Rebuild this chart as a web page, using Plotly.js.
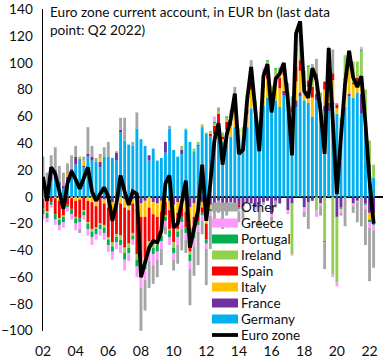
<!DOCTYPE html>
<html>
<head>
<meta charset="utf-8">
<script src="https://cdn.plot.ly/plotly-3.0.1.min.js"></script>
<style>html,body{margin:0;padding:0;background:#fff;}#chart{width:384px;height:360px;}</style>
</head>
<body>
<div id="chart"></div>
<script>
var quarters = [
"2002Q1","2002Q2","2002Q3","2002Q4","2003Q1","2003Q2","2003Q3","2003Q4",
"2004Q1","2004Q2","2004Q3","2004Q4","2005Q1","2005Q2","2005Q3","2005Q4",
"2006Q1","2006Q2","2006Q3","2006Q4","2007Q1","2007Q2","2007Q3","2007Q4",
"2008Q1","2008Q2","2008Q3","2008Q4","2009Q1","2009Q2","2009Q3","2009Q4",
"2010Q1","2010Q2","2010Q3","2010Q4","2011Q1","2011Q2","2011Q3","2011Q4",
"2012Q1","2012Q2","2012Q3","2012Q4","2013Q1","2013Q2","2013Q3","2013Q4",
"2014Q1","2014Q2","2014Q3","2014Q4","2015Q1","2015Q2","2015Q3","2015Q4",
"2016Q1","2016Q2","2016Q3","2016Q4","2017Q1","2017Q2","2017Q3","2017Q4",
"2018Q1","2018Q2","2018Q3","2018Q4","2019Q1","2019Q2","2019Q3","2019Q4",
"2020Q1","2020Q2","2020Q3","2020Q4","2021Q1","2021Q2","2021Q3","2021Q4",
"2022Q1","2022Q2"];

var germany = [10,6,12,14, 8,6,11,18, 24,27,22,30, 27,26,22,30, 30,29,27,48, 42,39,38,51,
 43,38,27,36, 27,29,33,51, 35,30,32,50, 41,34,38,52, 47,45,44,48, 41,44,45,52,
 45,42,52,66, 60,43,68,74, 69,72,67,76, 70,55,67,75, 72,70,60,72, 62,64,64,68,
 62,44,67,75, 74,78,62,55, 22,14];
var france = [4,2,5,6, 3,2,4,3, 6,1,1,2, 3,-2,4,-2, -3,-4,6,2, -2,-3,-2,-3,
 -5,-3,4,-4, -5,-3,8,-3, -6,-4,3,-3, -8,-5,1,-4, -10,-6,-5,-3, -7,-5,-4,-5,
 -6,-7,-4,-5, -8,-6,-4,-3, -13,-3,-5,3, -10,-5,5,3, -8,-4,-3,5, -5,4,6,3,
 -15,-8,0,2, -5,-3,15,-5, -12,-12];
var italy = [-1,-2,1,-1, -3,-2,2,-1, -3,-2,4,-3, -4,-5,3,-3, -5,-8,-4,-5, -6,-7,-3,-6,
 -10,-12,-8,-9, -10,-8,-4,-7, -11,-8,-5,-8, -15,-10,-8,-4, -10,-3,3,7, 2,6,8,12,
 3,6,10,14, 4,7,13,14, 5,12,14,12, 5,8,14,16, 6,12,14,9, 5,12,20,16,
 4,3,20,20, 10,8,8,2, -5,-3];
var spain = [-8,-9,-4,-12, -13,-12,-6,-8, -12,-14,-10,-16, -20,-16,-20,-16, -22,-22,-24,-24, -30,-25,-22,-34,
 -33,-30,-25,-22, -18,-16,-10,-14, -17,-12,-10,-12, -18,-12,-10,-4, -12,2,6,7, 2,6,4,7,
 -2,0,3,4, 1,2,5,6, 3,6,8,6, 3,4,11,8, 6,5,8,6, 3,6,7,5,
 3,0,2,1, 1,3,4,1, 2,-4];
var ireland = [1,-1,0,0, -1,-1,0,0, -1,2,-1,-1, -2,-1,-1,-2, -2,-3,-2,-3, -4,-3,-2,-4,
 -5,-4,-3,-3, -3,-2,-1,-1, -4,-2,3,1, -2,2,2,2, 1,2,2,3, 3,3,4,5,
 3,4,5,7, 6,4,6,7, 6,5,6,2, 4,-38,12,14, 10,10,8,-10, 8,-33,3,-58,
 -49,12,16,4, 16,12,20,22, 18,10];
var portugal = [-4,-4,-2,-4, -4,-4,-2,-4, -4,-3,-3,-4, -4,-4,-3,-4, -4,-4,-4,-4, -5,-4,-3,-5,
 -6,-5,-5,-5, -5,-4,-3,-5, -4,-4,-4,-4, -5,-4,-3,-2, -3,-2,1,1, 0,1,1,1,
 -1,0,1,1, 0,0,1,1, 0,1,1,1, 0,1,2,1, 0,1,1,1, 0,-1,1,1,
 0,-1,0,0, 0,0,1,-1, -2,-2];
var greece = [-4,-3,-2,-4, -4,-4,-3,-4, -5,-5,-3,-5, -6,-4,-5,-5, -5,-6,-5,-6, -8,-6,-4,-8,
 -9,-8,-7,-8, -6,-6,-4,-6, -5,-6,-5,-5, -6,-6,-5,-4, -4,-3,4,1, -2,-1,3,0,
 -2,-1,3,0, -2,-1,3,0, -2,0,1,0, -3,-1,3,0, -3,0,2,-5, -2,0,2,-2,
 -3,-3,1,0, -2,-1,2,-3, -4,-4];
var other = [15,10,13,17, 12,10,8,10, 8,-3,3,20, 8,3,3,7, 11,0,1,9, 17,0,3,12,
 -32,-23,-20,-14, -13,-12,-6,2, -8,-14,-16,-10, -27,-22,-25,-10, -27,-25,-13,-9, -15,-8,-3,5,
 -8,-9,2,10, 1,-15,-2,0, -5,-5,0,0, 3,7,8,14, -4,-20,6,10, -7,-20,9,17,
 1,-2,-22,7, -5,-15,-22,-27, -40,-28];
var euroZone = [15,-3,22,17, 4,-9,10,19, 13,6,14,22, 4,-3,2,7, 0,-18,-5,16, 4,-6,4,2,
 -60,-48,-38,-33, -34,-25,10,16, -23,-20,-2,12, -38,-23,-10,24, -18,10,42,55, 24,46,58,77,
 32,35,72,97, 62,34,90,99, 63,88,92,100, 72,31,122,131, 79,74,96,87, 64,32,111,50,
 2,45,84,109, 89,82,90,55, 12,-20];

var tickQuarters = ["2002Q1","2004Q1","2006Q1","2008Q1","2010Q1","2012Q1","2014Q1","2016Q1","2018Q1","2020Q1","2022Q1"];
var tickLabels = ["02","04","06","08","10","12","14","16","18","20","22"];

var seriesNames = ["Germany","France","Italy","Spain","Ireland","Portugal","Greece","Other"];
var seriesValues = [germany, france, italy, spain, ireland, portugal, greece, other];
var seriesColors = ["#00B0F0","#7030A0","#FFC000","#FF0000","#92D050","#00B050","#FF99FF","#A6A6A6"];
var lineName = "Euro zone";

var FONT = "Lato, 'Open Sans', sans-serif";
var TXT = "#0d0d0d";

var traces = seriesNames.map(function(n, k){
  return {type:"bar", name:n, x:quarters, y:seriesValues[k],
    marker:{color:seriesColors[k], line:{width:0}}, hoverinfo:"skip", showlegend:false};
});
traces.push({type:"scatter", mode:"lines", name:lineName, x:quarters, y:euroZone,
  line:{color:"#000000", width:3.8}, hoverinfo:"skip", showlegend:false});

// plot area in pixels (for placing the hand-made legend)
var W = 384, H = 360, ML = 43, MR = 1, MT = 9, MB = 29;
function px(xp){ return (xp - ML) / (W - ML - MR); }
function py(yp){ return (H - MB - yp) / (H - MT - MB); }

var shapes = [], annotations = [];
var legendOrder = ["Other","Greece","Portugal","Ireland","Spain","Italy","France","Germany"];
var rowTop = 207, rowStep = 16, symX0 = 212, symX1 = 238, textX = 240;
legendOrder.forEach(function(n, r){
  var k = seriesNames.indexOf(n);
  var cy = rowTop + r * rowStep;
  shapes.push({type:"rect", xref:"paper", yref:"paper", x0:px(symX0), x1:px(symX1),
    y0:py(cy + 4.5), y1:py(cy - 4.5), fillcolor:seriesColors[k], line:{width:0}, layer:"above"});
  annotations.push({xref:"paper", yref:"paper", x:px(textX), y:py(cy), xanchor:"left", yanchor:"middle",
    text:n, showarrow:false, borderpad:0, font:{family:FONT, size:13.5, color:TXT}});
});
var lcy = rowTop + 8 * rowStep;
shapes.push({type:"line", xref:"paper", yref:"paper", x0:px(symX0), x1:px(symX1), y0:py(lcy), y1:py(lcy),
  line:{color:"#000000", width:3.8}, layer:"above"});
annotations.push({xref:"paper", yref:"paper", x:px(textX), y:py(lcy), xanchor:"left", yanchor:"middle",
  text:lineName, showarrow:false, borderpad:0, font:{family:FONT, size:13.5, color:TXT}});

var layout = {
  width:W, height:H,
  margin:{l:ML, r:MR, t:MT, b:MB, pad:0, autoexpand:false},
  paper_bgcolor:"#ffffff", plot_bgcolor:"rgba(0,0,0,0)",
  font:{family:FONT, size:14, color:TXT},
  barmode:"relative", bargap:0.3,
  showlegend:false,
  title:{text:"Euro zone current account, in EUR bn (last data<br>point: Q2 2022)",
    x:50/W, xanchor:"left", xref:"container", y:1-17/H, yanchor:"top", yref:"container",
    font:{family:FONT, size:13.6, color:TXT}},
  xaxis:{type:"category", range:[0, 83.3], tickmode:"array", tickvals:tickQuarters, ticktext:tickLabels,
    showgrid:false, zeroline:false, showline:false, ticks:"", ticklabelstandoff:10,
    tickfont:{family:FONT, size:14, color:TXT}, fixedrange:true},
  yaxis:{range:[-100.2,140.2], tick0:0, dtick:20, showgrid:false, zeroline:true, zerolinecolor:"#000000", zerolinewidth:1.5,
    showline:true, linecolor:"#000000", linewidth:1.5, ticks:"", ticklabelstandoff:6,
    tickfont:{family:FONT, size:13.6, color:TXT}, fixedrange:true},
  shapes:shapes,
  annotations:annotations
};

Plotly.newPlot("chart", traces, layout, {staticPlot:true, displayModeBar:false});
</script>
</body>
</html>
